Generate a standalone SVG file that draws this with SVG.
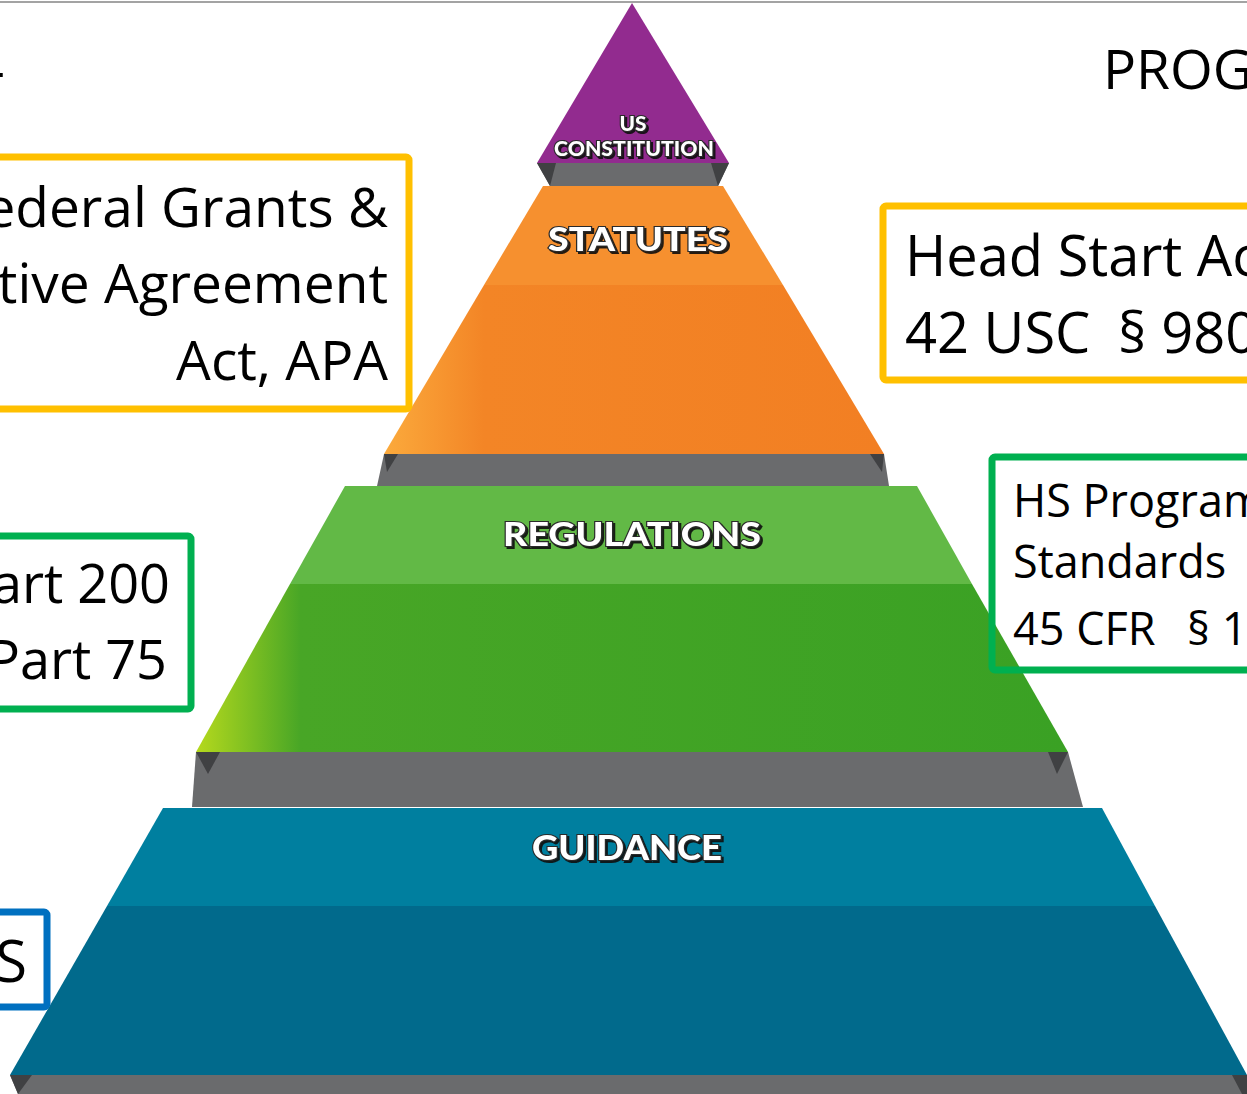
<svg xmlns="http://www.w3.org/2000/svg" width="1247" height="1094" viewBox="0 0 1247 1094">
<defs>
<style>
.bx{font-family:"Open Sans","Noto Sans","Liberation Sans",sans-serif;fill:#000;}
.lbl{font-family:Lato,"Open Sans","Liberation Sans",sans-serif;font-weight:900;fill:#fff;stroke:#2b2b2b;stroke-width:2.2;paint-order:stroke;text-anchor:middle;filter:url(#sh);}
.frame{fill:none;stroke-width:7;}
.gy{fill:#6a6b6d;}
.gd{fill:#404143;}
</style>
<filter id="sh" x="-10%" y="-30%" width="120%" height="160%">
<feDropShadow dx="2" dy="2" stdDeviation="0.6" flood-color="#111" flood-opacity="0.9"/>
</filter>
<linearGradient id="gOr" x1="0" y1="0" x2="1" y2="0">
<stop offset="0" stop-color="#fbaa3c"/>
<stop offset="0.2" stop-color="#f38526"/>
<stop offset="1" stop-color="#f27f23"/>
</linearGradient>
<linearGradient id="gGr" x1="0" y1="0" x2="1" y2="0">
<stop offset="0" stop-color="#b5d91d"/>
<stop offset="0.12" stop-color="#48a626"/>
<stop offset="1" stop-color="#3aa124"/>
</linearGradient>
</defs>
<rect x="0" y="0" width="1247" height="1094" fill="#fff"/>
<line x1="0" y1="2" x2="1247" y2="2" stroke="#a3a3a3" stroke-width="2"/>

<g id="constitution">
<polygon points="632,3 729,163 537,163" fill="#922b8f"/>
<text class="lbl" x="633" y="131" font-size="20" textLength="27" lengthAdjust="spacingAndGlyphs">US</text>
<text class="lbl" x="634" y="156" font-size="21" textLength="160" lengthAdjust="spacingAndGlyphs">CONSTITUTION</text>
</g>
<g id="band1">
<polygon class="gy" points="537,163 729,163 718,186 550,186"/>
<polygon class="gd" points="537,163 556,163 550,186"/>
<polygon class="gd" points="711,163 729,163 718,186"/>
</g>

<g id="statutes">
<polygon points="543,186 723,186 783,285 484,285" fill="#f6902f"/>
<polygon points="484,285 783,285 884,454 384,454" fill="url(#gOr)"/>
<text class="lbl" x="638" y="251" font-size="32" textLength="180" lengthAdjust="spacingAndGlyphs">STATUTES</text>
</g>
<g id="band2">
<polygon class="gy" points="384,454 884,454 889,486 377,486"/>
<polygon class="gd" points="384,454 398,454 387,472"/>
<polygon class="gd" points="870,454 884,454 882,472"/>
</g>

<g id="regulations">
<polygon points="345,486 917,486 972,584 290,584" fill="#62b946"/>
<polygon points="290,584 972,584 1068,752 196,752" fill="url(#gGr)"/>
<text class="lbl" x="632" y="546" font-size="33" textLength="258" lengthAdjust="spacingAndGlyphs">REGULATIONS</text>
</g>
<g id="band3">
<polygon class="gy" points="196,752 1068,752 1083,807 192,807"/>
<polygon class="gd" points="196,752 220,752 208,774"/>
<polygon class="gd" points="1048,752 1068,752 1057,774"/>
</g>

<g id="guidance">
<polygon points="163,808 1102,808 1155,906 107,906" fill="#007f9f"/>
<polygon points="107,906 1155,906 1247,1075 10,1075" fill="#016a8c"/>
<text class="lbl" x="627" y="860" font-size="35" textLength="190" lengthAdjust="spacingAndGlyphs">GUIDANCE</text>
</g>
<g id="band4">
<polygon class="gy" points="10,1075 1247,1075 1247,1094 18,1094"/>
<polygon class="gd" points="10,1075 32,1075 18,1094"/>
<polygon class="gd" points="1232,1075 1247,1075 1247,1094 1242,1094"/>
</g>

<g id="title">
<text class="bx" x="5" y="90" font-size="55" text-anchor="end">-</text>
<text class="bx" x="1103" y="89" font-size="55">PROG</text>
</g>

<g id="box-federal-grants">
<rect class="frame" x="-20" y="157" width="429" height="252" rx="3" stroke="#ffc000"/>
<text class="bx" x="388" y="227" font-size="55" text-anchor="end">ederal Grants &amp;</text>
<text class="bx" x="388" y="303" font-size="55" text-anchor="end">tive Agreement</text>
<text class="bx" x="388" y="380" font-size="55" text-anchor="end">Act, APA</text>
</g>

<g id="box-head-start-act">
<rect class="frame" x="883" y="206" width="400" height="174" rx="3" stroke="#ffc000"/>
<text class="bx" x="905" y="276" font-size="56">Head Start Ac</text>
<text class="bx" x="905" y="353" font-size="56">42 USC</text>
<text class="bx" x="1118" y="353" font-size="56">§ 980</text>
</g>

<g id="box-program-standards">
<rect class="frame" x="992" y="457" width="300" height="213" rx="3" stroke="#00b050"/>
<text class="bx" x="1013" y="517" font-size="45">HS Program</text>
<text class="bx" x="1013" y="578" font-size="45">Standards</text>
<text class="bx" x="1013" y="645" font-size="45">45 CFR</text>
<text class="bx" x="1187" y="645" font-size="45">§ 1</text>
</g>

<g id="box-cfr-parts">
<rect class="frame" x="-20" y="536" width="211" height="173" rx="3" stroke="#00b050"/>
<text class="bx" x="170" y="603" font-size="54" text-anchor="end">art 200</text>
<text class="bx" x="167" y="679" font-size="54" text-anchor="end">Part 75</text>
</g>

<g id="box-guidance-s">
<rect class="frame" x="-20" y="912" width="67" height="95" rx="3" stroke="#0070c0"/>
<text class="bx" x="27" y="982" font-size="58" text-anchor="end">S</text>
</g>
</svg>
